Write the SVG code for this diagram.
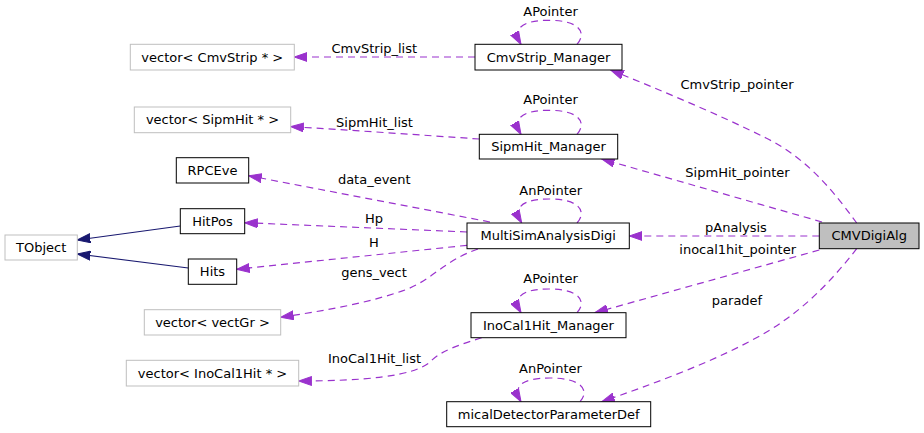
<svg xmlns="http://www.w3.org/2000/svg" width="924" height="433" viewBox="0 0 924 433">
  <style>
    text { font-family: "DejaVu Sans", "Noto Sans", sans-serif; font-size: 13px; fill: #000; text-anchor: middle; }
    .box { fill: #fff; stroke: #000; stroke-width: 1; }
    .ext { fill: #fff; stroke: #bfbfbf; stroke-width: 1; }
    .cur { fill: #bfbfbf; stroke: #000; stroke-width: 1; }
    .use { fill: none; stroke: #9a32cd; stroke-width: 1.2; stroke-dasharray: 7 5; marker-end: url(#arrUse); }
    .inh { fill: none; stroke: #191970; stroke-width: 1.2; marker-end: url(#arrInh); }
  </style>
  <defs>
    <marker id="arrUse" markerUnits="userSpaceOnUse" markerWidth="14" markerHeight="10" viewBox="0 0 14 10" refX="13" refY="5" orient="auto">
      <path d="M0,0.5 L13,5 L0,9.5 Z" fill="#9a32cd" stroke="#9a32cd" stroke-width="1"/>
    </marker>
    <marker id="arrInh" markerUnits="userSpaceOnUse" markerWidth="14" markerHeight="10" viewBox="0 0 14 10" refX="13" refY="5" orient="auto">
      <path d="M0,0.5 L13,5 L0,9.5 Z" fill="#191970" stroke="#191970" stroke-width="1"/>
    </marker>
  </defs>

  <!-- connectors -->
  <g id="edges">
    <!-- inheritance -->
    <path class="inh" d="M180.3,226 L77.3,240"/>
    <path class="inh" d="M188.3,268 L77.3,254"/>

    <!-- CmvStrip_Manager -->
    <path class="use" d="M475,57 L294.3,57"/>
    <text x="374.3" y="52.7">CmvStrip_list</text>
    <path class="use" d="M577,44.3 C587,33 580,20.3 549,20.3 C522,20.3 512,28.3 521,44.3"/>
    <text x="550.5" y="15.7">APointer</text>

    <!-- SipmHit_Manager -->
    <path class="use" d="M479.3,139 C420,135 350,130 290.7,126.7"/>
    <text x="374.5" y="127">SipmHit_list</text>
    <path class="use" d="M577,134.3 C587,123 580,110.3 549,110.3 C522,110.3 512,118.3 521,134.3"/>
    <text x="550.5" y="104.3">APointer</text>

    <!-- MultiSimAnalysisDigi -->
    <path class="use" d="M490,222 L248.7,175.7"/>
    <text x="374.3" y="184.3">data_event</text>
    <path class="use" d="M467,232 L244.7,222.7"/>
    <text x="374" y="223">Hp</text>
    <path class="use" d="M467,245.3 L236.7,269.3"/>
    <text x="374" y="246.7">H</text>
    <path class="use" d="M478,249 C445,260 432,280 405,290 C365,304 322,311 280.7,317.3"/>
    <text x="374" y="276.7">gens_vect</text>
    <path class="use" d="M577,223 C587,212 580,199 549.5,199 C522.5,199 512.5,207 521.7,223"/>
    <text x="550.7" y="195">AnPointer</text>

    <!-- CMVDigiAlg -->
    <path class="use" d="M819.3,236 L629.3,236"/>
    <text x="736" y="231.7">pAnalysis</text>
    <path class="use" d="M822,222 L601.7,159"/>
    <text x="737.5" y="176.7">SipmHit_pointer</text>
    <path class="use" d="M856.7,223 C836,195 810,160 766,138 C720,115 660,90 610.7,70"/>
    <text x="737" y="89">CmvStrip_pointer</text>
    <path class="use" d="M819.3,250 L595,312.7"/>
    <text x="737.7" y="254">inocal1hit_pointer</text>
    <path class="use" d="M856.7,248.7 C836,275 810,305 770,330 C720,360 650,385 601.7,401.7"/>
    <text x="737" y="305">paradef</text>

    <!-- InoCal1Hit_Manager -->
    <path class="use" d="M577,312.7 C587,301.7 580,289 549,289 C522,289 512,297 521,312.7"/>
    <text x="550.5" y="283">APointer</text>
    <path class="use" d="M481.7,337.7 C462,344 442,350 431,361 C415,377 360,381 298.7,381"/>
    <text x="374.5" y="363">InoCal1Hit_list</text>

    <!-- micalDetectorParameterDef -->
    <path class="use" d="M580,401.7 C590,390.7 582,378 550,378 C522,378 512,386 521,401.7"/>
    <text x="550.5" y="372.7">AnPointer</text>
  </g>

  <!-- nodes -->
  <g id="CMVDigiAlg">
    <rect class="cur" x="819.3" y="223" width="99.7" height="25.7"/>
    <text x="869.2" y="240.4">CMVDigiAlg</text>
  </g>
  <g id="CmvStrip_Manager">
    <rect class="box" x="475" y="44.3" width="147" height="25.7"/>
    <text x="548.5" y="61.7">CmvStrip_Manager</text>
  </g>
  <g id="SipmHit_Manager">
    <rect class="box" x="479.3" y="134.3" width="138.4" height="24.7"/>
    <text x="548.5" y="151.2">SipmHit_Manager</text>
  </g>
  <g id="MultiSimAnalysisDigi">
    <rect class="box" x="467" y="223" width="162.3" height="25.7"/>
    <text x="548.2" y="240.4">MultiSimAnalysisDigi</text>
  </g>
  <g id="InoCal1Hit_Manager">
    <rect class="box" x="471" y="312.7" width="155" height="25"/>
    <text x="548.5" y="329.7">InoCal1Hit_Manager</text>
  </g>
  <g id="micalDetectorParameterDef">
    <rect class="box" x="446.7" y="401.7" width="204" height="25"/>
    <text x="548.7" y="418.7">micalDetectorParameterDef</text>
  </g>
  <g id="RPCEve">
    <rect class="box" x="176.3" y="157.7" width="72.4" height="25.3"/>
    <text x="212.5" y="174.9">RPCEve</text>
  </g>
  <g id="HitPos">
    <rect class="box" x="180.3" y="208.7" width="64.4" height="25"/>
    <text x="212.5" y="225.7">HitPos</text>
  </g>
  <g id="Hits">
    <rect class="box" x="188.3" y="259" width="48.4" height="25.3"/>
    <text x="212.5" y="276.2">Hits</text>
  </g>
  <g id="TObject">
    <rect class="ext" x="5" y="235" width="72.3" height="25"/>
    <text x="41.2" y="252">TObject</text>
  </g>
  <g id="vector_CmvStrip">
    <rect class="ext" x="130.3" y="44.3" width="164" height="25.7"/>
    <text x="212.3" y="61.7">vector&lt; CmvStrip * &gt;</text>
  </g>
  <g id="vector_SipmHit">
    <rect class="ext" x="134.3" y="107" width="156.4" height="25.7"/>
    <text x="212.5" y="124.4">vector&lt; SipmHit * &gt;</text>
  </g>
  <g id="vector_vectGr">
    <rect class="ext" x="144.3" y="309.7" width="136.4" height="25.3"/>
    <text x="212.5" y="326.9">vector&lt; vectGr &gt;</text>
  </g>
  <g id="vector_InoCal1Hit">
    <rect class="ext" x="126.3" y="360.3" width="172.4" height="25.7"/>
    <text x="212.5" y="377.7">vector&lt; InoCal1Hit * &gt;</text>
  </g>
</svg>
